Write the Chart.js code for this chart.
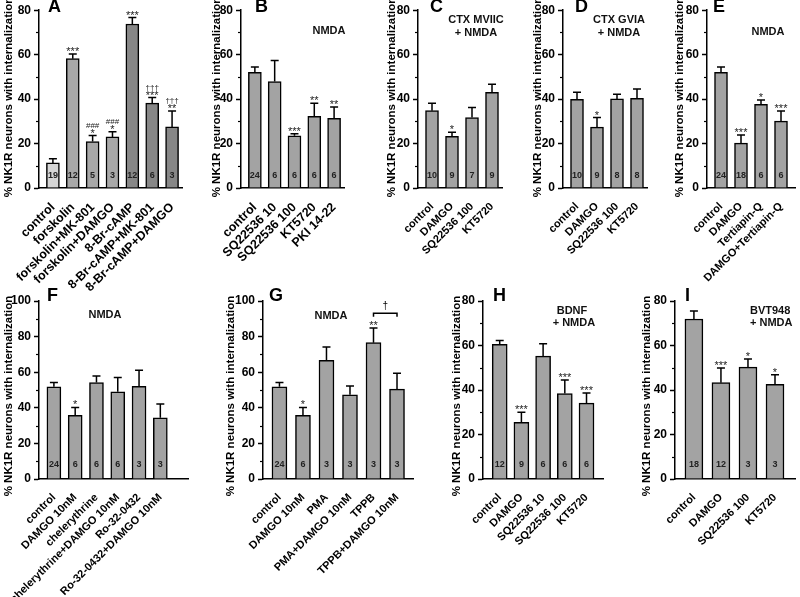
<!DOCTYPE html>
<html><head><meta charset="utf-8">
<script src="https://cdn.jsdelivr.net/npm/chart.js@4.4.1/dist/chart.umd.min.js"></script>
<style>
html,body{margin:0;padding:0;background:#fff;}
#wrap{position:relative;width:800px;height:597px;overflow:hidden;background:#fff;}
.p{position:absolute;}
canvas{display:block;}
</style></head><body><div id="wrap"></div>
<script>
const FONT = "'Liberation Sans', Arial, Helvetica, sans-serif";

// ---------- Panel A ----------
const labelsA = ['control','forskolin','forskolin+MK-801','forskolin+DAMGO','8-Br-cAMP','8-Br-cAMP+MK-801','8-Br-cAMP+DAMGO'];
const meanA = [11.3, 58.2, 20.9, 23.0, 73.8, 38.2, 27.5];
const semA  = [1.9, 2.1, 2.7, 2.3, 2.9, 2.5, 7.2];
const nA    = [19, 12, 5, 3, 12, 6, 3];
const sigA  = ['', '***', '*', '*', '***', '***', '**'];
const sig2A = ['', '', '###', '###', '', '†††', '†††'];

// ---------- Panel B ----------
const labelsB = ['control','SQ22536 10','SQ22536 100','KT5720','PKI 14-22'];
const meanB = [52.0, 47.9, 23.5, 32.3, 31.4];
const semB  = [2.4, 9.5, 0.9, 5.8, 5.1];
const nB    = [24, 6, 6, 6, 6];
const sigB  = ['', '', '***', '**', '**'];

// ---------- Panel C ----------
const labelsC = ['control','DAMGO','SQ22536 100','KT5720'];
const meanC = [34.8, 23.2, 31.7, 43.1];
const semC  = [3.3, 1.9, 4.5, 3.6];
const nC    = [10, 9, 7, 9];
const sigC  = ['', '*', '', ''];

// ---------- Panel D ----------
const labelsD = ['control','DAMGO','SQ22536 100','KT5720'];
const meanD = [39.9, 27.4, 40.1, 40.4];
const semD  = [3.2, 4.3, 2.1, 4.2];
const nD    = [10, 9, 8, 8];
const sigD  = ['', '*', '', ''];

// ---------- Panel E ----------
const labelsE = ['control','DAMGO','Tertiapin-Q','DAMGO+Tertiapin-Q'];
const meanE = [52.0, 20.2, 37.7, 30.1];
const semE  = [2.4, 3.7, 1.9, 4.6];
const nE    = [24, 18, 6, 6];
const sigE  = ['', '***', '*', '***'];

// ---------- Panel F ----------
const labelsF = ['control','DAMGO 10nM','chelerythrine','chelerythrine+DAMGO 10nM','Ro-32-0432','Ro-32-0432+DAMGO 10nM'];
const meanF = [51.8, 35.7, 54.2, 49.0, 52.0, 34.4];
const semF  = [2.4, 4.5, 3.7, 8.0, 9.1, 7.8];
const nF    = [24, 6, 6, 6, 3, 3];
const sigF  = ['', '*', '', '', '', ''];

// ---------- Panel G ----------
const labelsG = ['control','DAMGO 10nM','PMA','PMA+DAMGO 10nM','TPPB','TPPB+DAMGO 10nM'];
const meanG = [51.8, 35.7, 66.7, 47.3, 76.6, 50.5];
const semG  = [2.4, 4.5, 7.5, 5.0, 8.3, 8.9];
const nG    = [24, 6, 3, 3, 3, 3];
const sigG  = ['', '*', '', '', '**', ''];

// ---------- Panel H ----------
const labelsH = ['control','DAMGO','SQ22536 10','SQ22536 100','KT5720'];
const meanH = [60.5, 25.5, 55.2, 38.4, 34.1];
const semH  = [1.7, 4.5, 5.6, 6.1, 4.6];
const nH    = [12, 9, 6, 6, 6];
const sigH  = ['', '***', '', '***', '***'];

// ---------- Panel I ----------
const labelsI = ['control','DAMGO','SQ22536 100','KT5720'];
const meanI = [71.9, 43.3, 50.3, 42.5];
const semI  = [3.6, 6.6, 3.6, 4.4];
const nI    = [18, 12, 3, 3];
const sigI  = ['', '***', '*', '*'];

// ---------- styles / layout ----------
const GREY = '#a3a3a3';
const colorsA = ['#d6d6d6', '#a8a8a8', '#a8a8a8', '#a8a8a8', '#878787', '#878787', '#878787'];
const rows = [
  {topY:10,  bottomY:188, canvasTop:0,   canvasH:300, titleY:97,  letterY:7,   nOff:12},
  {topY:301, bottomY:479, canvasTop:283, canvasH:314, titleY:396, letterY:296, nOff:14}
];
const LEFTPAD = 46;

const panels = [
  {id:'A', row:0, labels:labelsA, mean:meanA, sem:semA, n:nA, sig:sigA, sig2:sig2A, colors:colorsA,
   axisX:39, axisEnd:182, xmin:-0.7, xmax:6.5, ymax:80, bar:13, titleDx:30, letterDx:9, lab:12.5, notes:[]},
  {id:'B', row:0, labels:labelsB, mean:meanB, sem:semB, n:nB, sig:sigB, colors:GREY,
   axisX:241, axisEnd:344, xmin:-0.7, xmax:4.5, ymax:80, bar:13, titleDx:24, letterDx:14, lab:12.5,
   notes:[{t:'NMDA', x:3.74, y:70.5}]},
  {id:'C', row:0, labels:labelsC, mean:meanC, sem:semC, n:nC, sig:sigC, colors:GREY,
   axisX:418, axisEnd:502, xmin:-0.7, xmax:3.5, ymax:80, bar:13, titleDx:26, letterDx:12, lab:11,
   notes:[{t:'CTX MVIIC', x:2.2, y:75.5}, {t:'+ NMDA', x:2.2, y:69.7}]},
  {id:'D', row:0, labels:labelsD, mean:meanD, sem:semD, n:nD, sig:sigD, colors:GREY,
   axisX:563, axisEnd:647, xmin:-0.7, xmax:3.5, ymax:80, bar:13, titleDx:25, letterDx:12, lab:11,
   notes:[{t:'CTX GVIA', x:2.1, y:75.5}, {t:'+ NMDA', x:2.1, y:69.7}]},
  {id:'E', row:0, labels:labelsE, mean:meanE, sem:semE, n:nE, sig:sigE, colors:GREY,
   axisX:707, axisEnd:795, xmin:-0.7, xmax:3.7, ymax:80, bar:13, titleDx:27, letterDx:6, lab:11,
   notes:[{t:'NMDA', x:2.35, y:70.1}]},
  {id:'F', row:1, labels:labelsF, mean:meanF, sem:semF, n:nF, sig:sigF, colors:GREY,
   axisX:39, axisEnd:188, xmin:-0.7, xmax:6.3, ymax:100, bar:14, titleDx:30, letterDx:8, lab:11,
   notes:[{t:'NMDA', x:2.4, y:92.1}]},
  {id:'G', row:1, labels:labelsG, mean:meanG, sem:semG, n:nG, sig:sigG, colors:GREY,
   axisX:263, axisEnd:413, xmin:-0.7, xmax:5.68, ymax:100, bar:15, titleDx:32, letterDx:6, lab:11,
   notes:[{t:'NMDA', x:2.19, y:91.7}], bracket:{from:4, to:5, y:93.1, drop:1.9, mark:'†'}},
  {id:'H', row:1, labels:labelsH, mean:meanH, sem:semH, n:nH, sig:sigH, colors:GREY,
   axisX:483, axisEnd:603, xmin:-0.77, xmax:4.76, ymax:80, bar:15, titleDx:26, letterDx:10, lab:11,
   notes:[{t:'BDNF', x:3.33, y:75.6}, {t:'+ NMDA', x:3.42, y:70.1}]},
  {id:'I', row:1, labels:labelsI, mean:meanI, sem:semI, n:nI, sig:sigI, colors:GREY,
   axisX:675, axisEnd:795, xmin:-0.7, xmax:3.74, ymax:80, bar:18, titleDx:28, letterDx:10, lab:11,
   notes:[{t:'BVT948', x:2.82, y:75.6}, {t:'+ NMDA', x:2.86, y:70.1}]}
];

function makePlugin(p, r) {
  return {
    id: 'deco' + p.id,
    afterDraw(chart) {
      const ctx = chart.ctx, xs = chart.scales.x, ys = chart.scales.y;
      ctx.save();
      // minor ticks
      ctx.strokeStyle = '#000'; ctx.lineWidth = 1.2;
      for (let v = 10; v < p.ymax; v += 20) {
        const y = Math.round(ys.getPixelForValue(v)) + 0.5;
        ctx.beginPath(); ctx.moveTo(ys.right - 3, y); ctx.lineTo(ys.right, y); ctx.stroke();
      }
      // error bars, n labels, significance
      ctx.lineWidth = 1.5;
      p.mean.forEach((m, i) => {
        const x = xs.getPixelForValue(i);
        const y0 = ys.getPixelForValue(m);
        const y1 = ys.getPixelForValue(m + p.sem[i]);
        ctx.strokeStyle = '#000';
        ctx.beginPath(); ctx.moveTo(x, y0); ctx.lineTo(x, y1);
        ctx.moveTo(x - 4, y1); ctx.lineTo(x + 4, y1); ctx.stroke();
        ctx.fillStyle = '#222';
        ctx.textAlign = 'center'; ctx.textBaseline = 'middle';
        ctx.font = 'bold 9px ' + FONT;
        ctx.fillText(String(p.n[i]), x, ys.bottom - r.nOff);
        ctx.textBaseline = 'alphabetic';
        if (p.sig && p.sig[i]) {
          ctx.font = '11px ' + FONT;
          ctx.fillText(p.sig[i], x, y1 + 1);
        }
        if (p.sig2 && p.sig2[i]) {
          ctx.font = '8px ' + FONT;
          ctx.fillText(p.sig2[i], x, y1 - 8);
        }
      });
      // bracket
      if (p.bracket) {
        const b = p.bracket;
        const xa = xs.getPixelForValue(b.from), xb = xs.getPixelForValue(b.to);
        const yb = ys.getPixelForValue(b.y), yd = ys.getPixelForValue(b.y - b.drop);
        ctx.strokeStyle = '#000'; ctx.lineWidth = 1.5;
        ctx.beginPath(); ctx.moveTo(xa, yd); ctx.lineTo(xa, yb); ctx.lineTo(xb, yb); ctx.lineTo(xb, yd); ctx.stroke();
        ctx.fillStyle = '#000'; ctx.font = '10px ' + FONT; ctx.textAlign = 'center'; ctx.textBaseline = 'bottom';
        ctx.fillText(b.mark, (xa + xb) / 2, yb - 2);
      }
      // notes
      ctx.fillStyle = '#111'; ctx.font = 'bold 11px ' + FONT; ctx.textAlign = 'center'; ctx.textBaseline = 'middle';
      p.notes.forEach(nt => ctx.fillText(nt.t, xs.getPixelForValue(nt.x), ys.getPixelForValue(nt.y)));
      // y title
      ctx.save();
      ctx.translate(LEFTPAD - p.titleDx, r.titleY - r.canvasTop);
      ctx.rotate(-Math.PI / 2);
      ctx.fillStyle = '#000'; ctx.font = 'bold 11.5px ' + FONT; ctx.textAlign = 'center'; ctx.textBaseline = 'middle';
      ctx.fillText('% NK1R neurons with internalization', 0, 0);
      ctx.restore();
      // panel letter
      ctx.fillStyle = '#000'; ctx.font = 'bold 18px ' + FONT; ctx.textAlign = 'left'; ctx.textBaseline = 'middle';
      ctx.fillText(p.id, LEFTPAD + p.letterDx, r.letterY - r.canvasTop);
      ctx.restore();
    }
  };
}

const wrap = document.getElementById('wrap');
panels.forEach(p => {
  const r = rows[p.row];
  const cl = p.axisX - LEFTPAD;
  const cw = p.axisEnd - cl + 6;
  const div = document.createElement('div');
  div.className = 'p';
  div.style.left = cl + 'px'; div.style.top = r.canvasTop + 'px';
  const cv = document.createElement('canvas');
  cv.width = cw; cv.height = r.canvasH;
  cv.style.width = cw + 'px'; cv.style.height = r.canvasH + 'px';
  div.appendChild(cv); wrap.appendChild(div);
  new Chart(cv, {
    type: 'bar',
    data: { datasets: [{
      data: p.mean.map((v, i) => ({x: i, y: v})),
      backgroundColor: p.colors, borderColor: '#000', borderWidth: 1.5, barThickness: p.bar
    }]},
    options: {
      responsive: false, animation: false, devicePixelRatio: 1,
      layout: {padding: {top: r.topY - r.canvasTop, right: 6, left: 0, bottom: 0}},
      plugins: {legend: {display: false}, tooltip: {enabled: false}},
      scales: {
        x: {
          type: 'linear', min: p.xmin, max: p.xmax, bounds: 'data', offset: false,
          afterBuildTicks: s => { s.ticks = p.labels.map((l, i) => ({value: i})); },
          afterFit: s => { s.height = r.canvasTop + r.canvasH - r.bottomY; s.paddingLeft = 0; s.paddingRight = 0; },
          grid: {display: false},
          border: {display: true, color: '#000', width: 1.5},
          ticks: {autoSkip: false, maxRotation: 45, minRotation: 45, padding: 4, color: '#000',
            font: {family: FONT, size: p.lab, weight: 'bold'},
            callback: v => (p.labels[v] !== undefined ? p.labels[v] : '')}
        },
        y: {
          min: 0, max: p.ymax,
          afterFit: s => { s.width = LEFTPAD; },
          ticks: {stepSize: 20, padding: 3, color: '#000', font: {family: FONT, size: 12, weight: 'bold'}},
          grid: {display: true, drawOnChartArea: false, tickLength: 5, tickWidth: 1.5, color: '#000'},
          border: {display: true, color: '#000', width: 1.5}
        }
      }
    },
    plugins: [makePlugin(p, r)]
  });
});
</script></body></html>
